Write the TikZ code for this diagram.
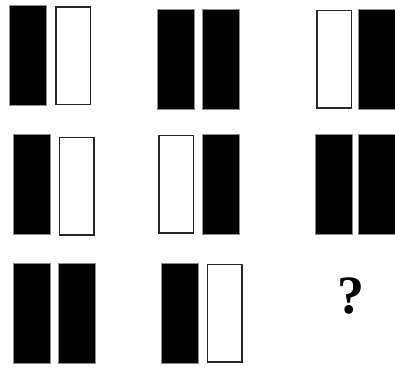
\documentclass[tikz,border=0pt]{standalone}
\usepackage{fontspec}
\setmainfont{Liberation Serif}
\usepackage{tikz}

\begin{document}
\begin{tikzpicture}[x=1pt,y=-1pt,
      every node/.style={inner sep=0pt},
      blackbar/.style={rectangle,fill=black,draw=black!45,line width=0.6pt,minimum width=37pt,minimum height=99.5pt},
      whitebar/.style={rectangle,fill=white,draw=black!85,line width=1.5pt,minimum width=34.5pt,minimum height=97.5pt},
      qmark/.style={font=\fontsize{54}{60}\selectfont\bfseries}
  ]
    \useasboundingbox (0,0) rectangle (395,367);

    % first row
    \node[blackbar] (a1) at (28,55.3) {};
    \node[whitebar] (a2) at (73,55.5) {};
    \node[blackbar] (b1) at (176,59.2) {};
    \node[blackbar] (b2) at (220.8,59.2) {};
    \node[whitebar] (c1) at (334,59.2) {};
    \node[blackbar] (c2) at (377,59.2) {};

    % second row
    \node[blackbar] (d1) at (32,184.3) {};
    \node[whitebar] (d2) at (76.8,186.3) {};
    \node[whitebar] (e1) at (176.2,184.3) {};
    \node[blackbar] (e2) at (221,184.3) {};
    \node[blackbar] (f1) at (334,184.3) {};
    \node[blackbar] (f2) at (376.7,184.3) {};

    % third row
    \node[blackbar] (g1) at (32,313.3) {};
    \node[blackbar] (g2) at (77,313.3) {};
    \node[blackbar] (h1) at (180,313.3) {};
    \node[whitebar] (h2) at (224.8,313) {};
    \node[qmark] (q) at (351,296) {?};
  \end{tikzpicture}
\end{document}
